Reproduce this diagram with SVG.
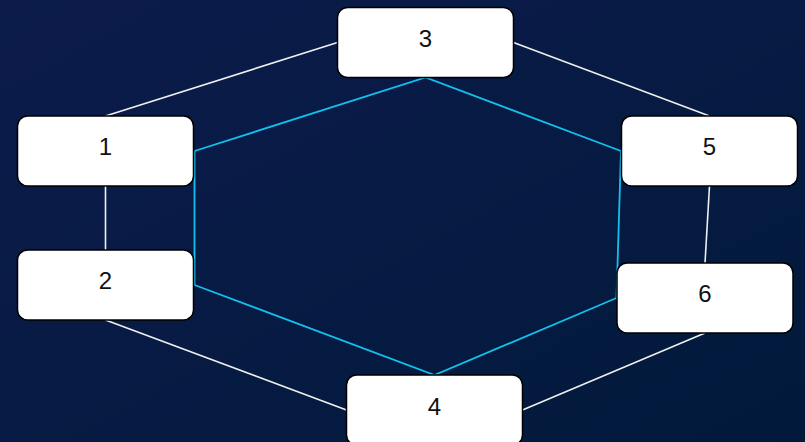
<svg xmlns="http://www.w3.org/2000/svg" width="805" height="442" viewBox="0 0 805 442">
<defs>
<linearGradient id="bg" x1="0" y1="0" x2="1" y2="1">
<stop offset="0" stop-color="#0c1b4b"/>
<stop offset="1" stop-color="#011a3b"/>
</linearGradient>
<style>
.node rect{fill:#ffffff;stroke:#000000;stroke-width:1.5}
.node text{font-family:"Liberation Sans",Arial,sans-serif;font-size:24px;fill:#111111;text-anchor:middle}
.w{stroke:#f0f0f0;stroke-width:1.6;fill:none}
.b{stroke:#14c0ee;stroke-width:1.8;fill:none}
</style>
</defs>
<rect x="0" y="0" width="805" height="442" fill="url(#bg)"/>
<g id="connectors">
<line class="w" x1="105.5" y1="116" x2="337.5" y2="42.5"/>
<line class="w" x1="513.5" y1="42.5" x2="709.5" y2="116"/>
<line class="w" x1="105.5" y1="186" x2="105.5" y2="250"/>
<line class="w" x1="709.5" y1="186" x2="705" y2="263"/>
<line class="w" x1="105.5" y1="320" x2="346.5" y2="410"/>
<line class="w" x1="705" y1="333" x2="522.5" y2="410"/>
<polyline class="b" points="194.5,151 425.5,77.5 621,151"/>
<polyline class="b" points="194.5,151 194.5,285 434.5,375 616.5,298 621,151"/>
</g>
<g id="node3" class="node"><rect x="337.5" y="7.5" width="176" height="70" rx="10"/><text x="425.5" y="47">3</text></g>
<g id="node1" class="node"><rect x="17.5" y="116" width="176" height="70" rx="10"/><text x="105.5" y="155">1</text></g>
<g id="node2" class="node"><rect x="17.5" y="250" width="176" height="70" rx="10"/><text x="105.5" y="289">2</text></g>
<g id="node5" class="node"><rect x="621.5" y="116" width="176" height="70" rx="10"/><text x="709.5" y="155">5</text></g>
<g id="node6" class="node"><rect x="617" y="263" width="176" height="70" rx="10"/><text x="705" y="302">6</text></g>
<g id="node4" class="node"><rect x="346.5" y="375" width="176" height="70" rx="10"/><text x="434.5" y="415">4</text></g>
</svg>
